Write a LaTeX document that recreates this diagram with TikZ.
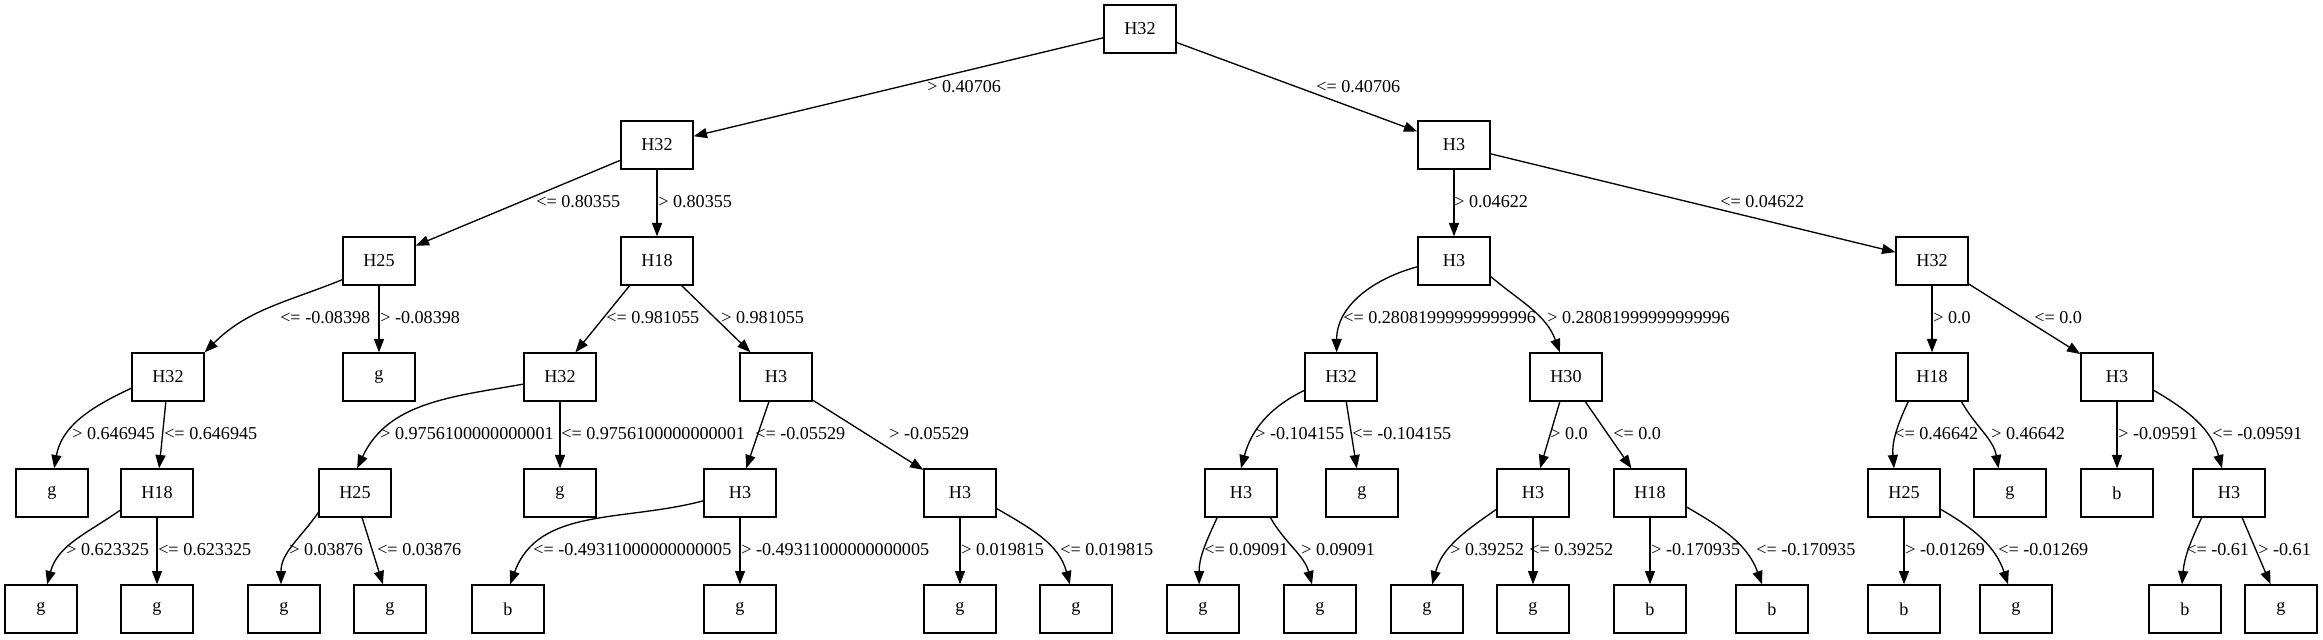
\documentclass[tikz,border=0pt]{standalone}
\usepackage{fontspec}
\setmainfont{Liberation Serif}
\usetikzlibrary{arrows.meta}
\begin{document}
\begin{tikzpicture}[x=0.75pt,y=0.75pt,
  box/.style={draw, line width=1pt, minimum width=54pt, minimum height=36pt, inner sep=0pt, font=\fontsize{13.6}{16}\selectfont},
  lbl/.style={anchor=west, inner sep=0pt, font=\fontsize{13.6}{16}\selectfont},
  conn/.style={line width=1pt, -{Triangle[length=10pt,width=7.5pt]}}]
\useasboundingbox (0,0) rectangle (2323,639);
% level 0
\node[box] (n0) at (1140,610) {H32};
% level 1
\node[box] (a1) at (657,494) {H32};
\node[box] (b1) at (1454,494) {H3};
% level 2
\node[box] (a2) at (379,378) {H25};
\node[box] (a3) at (657,378) {H18};
\node[box] (b2) at (1454,378) {H3};
\node[box] (b3) at (1932,378) {H32};
% level 3
\node[box] (c1) at (168,262) {H32};
\node[box] (c2) at (379,262) {g};
\node[box] (c3) at (560,262) {H32};
\node[box] (c4) at (776,262) {H3};
\node[box] (c5) at (1341,262) {H32};
\node[box] (c6) at (1566,262) {H30};
\node[box] (c7) at (1932,262) {H18};
\node[box] (c8) at (2117,262) {H3};
% level 4
\node[box] (d1) at (52,146) {g};
\node[box] (d2) at (157,146) {H18};
\node[box] (d3) at (355,146) {H25};
\node[box] (d4) at (560,146) {g};
\node[box] (d5) at (740,146) {H3};
\node[box] (d6) at (960,146) {H3};
\node[box] (d7) at (1241,146) {H3};
\node[box] (d8) at (1362,146) {g};
\node[box] (d9) at (1533,146) {H3};
\node[box] (d10) at (1650,146) {H18};
\node[box] (d11) at (1904,146) {H25};
\node[box] (d12) at (2010,146) {g};
\node[box] (d13) at (2117,146) {b};
\node[box] (d14) at (2229,146) {H3};
% level 5
\node[box] (e1) at (41,30) {g};
\node[box] (e2) at (157,30) {g};
\node[box] (e3) at (284,30) {g};
\node[box] (e4) at (390,30) {g};
\node[box] (e5) at (508,30) {b};
\node[box] (e6) at (740,30) {g};
\node[box] (e7) at (960,30) {g};
\node[box] (e8) at (1076,30) {g};
\node[box] (e9) at (1203,30) {g};
\node[box] (e10) at (1320,30) {g};
\node[box] (e11) at (1427,30) {g};
\node[box] (e12) at (1533,30) {g};
\node[box] (e13) at (1650,30) {b};
\node[box] (e14) at (1772,30) {b};
\node[box] (e15) at (1904,30) {b};
\node[box] (e16) at (2016,30) {g};
\node[box] (e17) at (2185,30) {b};
\node[box] (e18) at (2281,30) {g};
% edges
\draw[conn] (n0) -- (a1);
\draw[conn] (n0) -- (b1);
\draw[conn] (a1) -- (a2);
\draw[conn] (a1) -- (a3);
\draw[conn] (b1) -- (b2);
\draw[conn] (b1) -- (b3);
\draw[conn] (a2.207) to[out=202,in=45] (c1.north east);
\draw[conn] (a2) -- (c2);
\draw[conn] (a3.222) -- (c3.58);
\draw[conn] (a3.315) -- (c4.136);
\draw[conn] (b2.189) to[out=195,in=90] (c5.100);
\draw[conn] (b2.337) to[out=-40,in=110] (c6.104);
\draw[conn] (b3) -- (c7);
\draw[conn] (b3) -- (c8);
\draw[conn] (c1.197) to[out=205,in=80] (d1.85);
\draw[conn] (c1.265) -- (d2.85);
\draw[conn] (c3.191) to[out=190,in=65] (d3.85);
\draw[conn] (c3) -- (d4);
\draw[conn] (c4.254) -- (d5.76);
\draw[conn] (c4) -- (d6);
\draw[conn] (c5.200) to[out=206,in=75] (d7.north);
\draw[conn] (c5.282) -- (d8.102);
\draw[conn] (c6.256) -- (d9.74);
\draw[conn] (c6.308) -- (d10.127);
\draw[conn] (c7.226) to[out=245,in=95] (d11.112);
\draw[conn] (c7.320) to[out=-60,in=100] (d12.115);
\draw[conn] (c8) -- (d13);
\draw[conn] (c8.340) to[out=-30,in=105] (d14.106);
\draw[conn] (d2.205) to[out=215,in=75] (e1.76);
\draw[conn] (d2) -- (e2);
\draw[conn] (d3.208) to[out=235,in=90] (e3.97);
\draw[conn] (d3.286) -- (e4.106);
\draw[conn] (d5.192) to[out=195,in=70] (e5.85);
\draw[conn] (d5) -- (e6);
\draw[conn] (d6) -- (e7);
\draw[conn] (d6.337) to[out=-30,in=105] (e8.104);
\draw[conn] (d7.226) to[out=245,in=90] (e9.99);
\draw[conn] (d7.320) to[out=-60,in=105] (e10.108);
\draw[conn] (d9.204) to[out=215,in=75] (e11.78);
\draw[conn] (d9) -- (e12);
\draw[conn] (d10) -- (e13);
\draw[conn] (d10.339) to[out=-30,in=110] (e14.112);
\draw[conn] (d11) -- (e15);
\draw[conn] (d11.336) to[out=-30,in=108] (e16.108);
\draw[conn] (d14.222) to[out=245,in=85] (e17.97);
\draw[conn] (d14.298) -- (e18.113);
% labels
\node[lbl] (l1) at (927,552) {> 0.40706};
\node[lbl] (l2) at (1316,552) {<= 0.40706};
\node[lbl] (l3) at (536,437) {<= 0.80355};
\node[lbl] (l4) at (658,437) {> 0.80355};
\node[lbl] (l5) at (1454,437) {> 0.04622};
\node[lbl] (l6) at (1720,437) {<= 0.04622};
\node[lbl] (l7) at (280,321) {<= -0.08398};
\node[lbl] (l8) at (380,321) {> -0.08398};
\node[lbl] (l9) at (606,321) {<= 0.981055};
\node[lbl] (l10) at (721,321) {> 0.981055};
\node[lbl] (l11) at (1343,321) {<= 0.28081999999999996};
\node[lbl] (l12) at (1547,321) {> 0.28081999999999996};
\node[lbl] (l13) at (1933,321) {> 0.0};
\node[lbl] (l14) at (2034,321) {<= 0.0};
\node[lbl] (l15) at (72,205) {> 0.646945};
\node[lbl] (l16) at (164,205) {<= 0.646945};
\node[lbl] (l17) at (380,205) {> 0.9756100000000001};
\node[lbl] (l18) at (561,205) {<= 0.9756100000000001};
\node[lbl] (l19) at (755,205) {<= -0.05529};
\node[lbl] (l20) at (889,205) {> -0.05529};
\node[lbl] (l21) at (1255,205) {> -0.104155};
\node[lbl] (l22) at (1352,205) {<= -0.104155};
\node[lbl] (l23) at (1550,205) {> 0.0};
\node[lbl] (l24) at (1613,205) {<= 0.0};
\node[lbl] (l25) at (1894,205) {<= 0.46642};
\node[lbl] (l26) at (1991,205) {> 0.46642};
\node[lbl] (l27) at (2118,205) {> -0.09591};
\node[lbl] (l28) at (2212,205) {<= -0.09591};
\node[lbl] (l29) at (66,89) {> 0.623325};
\node[lbl] (l30) at (158,89) {<= 0.623325};
\node[lbl] (l31) at (289,89) {> 0.03876};
\node[lbl] (l32) at (377,89) {<= 0.03876};
\node[lbl] (l33) at (533,89) {<= -0.49311000000000005};
\node[lbl] (l34) at (741,89) {> -0.49311000000000005};
\node[lbl] (l35) at (961,89) {> 0.019815};
\node[lbl] (l36) at (1060,89) {<= 0.019815};
\node[lbl] (l37) at (1204,89) {<= 0.09091};
\node[lbl] (l38) at (1301,89) {> 0.09091};
\node[lbl] (l39) at (1450,89) {> 0.39252};
\node[lbl] (l40) at (1529,89) {<= 0.39252};
\node[lbl] (l41) at (1651,89) {> -0.170935};
\node[lbl] (l42) at (1756,89) {<= -0.170935};
\node[lbl] (l43) at (1905,89) {> -0.01269};
\node[lbl] (l44) at (1998,89) {<= -0.01269};
\node[lbl] (l45) at (2186,89) {<= -0.61};
\node[lbl] (l46) at (2258,89) {> -0.61};
\end{tikzpicture}
\end{document}
